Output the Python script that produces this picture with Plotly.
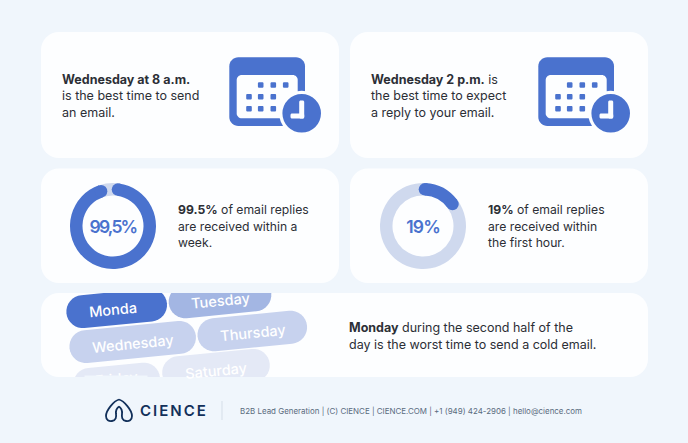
import math
import plotly.graph_objects as go

W, H = 688, 443
BLUE = "#4A72CE"
TRACK = "#CFD9EE"
BG = "#F0F6FC"
INK = "#2C2F36"
NAVY = "#12305A"

# share of the ring that is painted
arc_labels = ["99,5%", "19%"]
arc_values = [98.0, 19.4]

days = ["Monda", "Tuesday", "Wednesday", "Thursday", "Friday", "Saturday"]
day_colors = ["#4A72CE", "#A3B6E3", "#C7D2EE", "#C7D2EE", "#E4E9F6", "#E4E9F6"]

card1_lines = ["<b>Wednesday at 8 a.m.</b>", "is the best time to send", "an email."]
card2_lines = ["<b>Wednesday 2 p.m.</b> is", "the best time to expect", "a reply to your email."]
card3_lines = ["<b>99.5%</b> of email replies", "are received within a", "week."]
card4_lines = ["<b>19%</b> of email replies", "are received within", "the first hour."]
card5_lines = ["<b>Monday</b> during the second half of the", "day is the worst time to send a cold email."]
footer = "B2B Lead Generation | (C) CIENCE | CIENCE.COM | +1 (949) 424-2906 | hello@cience.com"


def rounded(cx, cy, w, h, r, angle=0):
    pts = []
    a = math.radians(angle)
    corners = [(w / 2 - r, -h / 2 + r, -90), (w / 2 - r, h / 2 - r, 0),
               (-w / 2 + r, h / 2 - r, 90), (-w / 2 + r, -h / 2 + r, 180)]
    for x, y, start in corners:
        for i in range(9):
            t = math.radians(start + i * 90 / 8)
            px, py = x + r * math.cos(t), y + r * math.sin(t)
            pts.append((cx + px * math.cos(a) - py * math.sin(a),
                        cy + px * math.sin(a) + py * math.cos(a)))
    return "M" + " L".join(f"{x:.2f},{y:.2f}" for x, y in pts) + " Z"


shapes = []


def box(x0, y0, x1, y1, r, color, layer="below"):
    shapes.append(dict(type="path", path=rounded((x0 + x1) / 2, (y0 + y1) / 2, x1 - x0, y1 - y0, r),
                       fillcolor=color, line_width=0, xref="x", yref="y", layer=layer))


def disc(cx, cy, r, color):
    shapes.append(dict(type="circle", x0=cx - r, x1=cx + r, y0=cy - r, y1=cy + r,
                       fillcolor=color, line_width=0, xref="x", yref="y", layer="above"))


def calendar(dx):
    box(229.3 + dx, 57.3, 305 + dx, 126, 9, BLUE)
    box(236.7 + dx, 75, 297.7 + dx, 118.3, 5, "#FDFEFF")
    for y, xs in [(85, [260.7, 273.3, 285.7]), (96.7, [249, 260.7, 273.3]), (108.7, [249, 260.7, 273.3])]:
        for x in xs:
            box(x - 2.8 + dx, y - 2.8, x + 2.8 + dx, y + 2.8, 1.2, BLUE, "above")
    disc(301.7 + dx, 113.3, 22.5, "#FDFEFF")
    disc(301.7 + dx, 113.3, 19.3, BLUE)
    box(299.2 + dx, 100.5, 304.2 + dx, 118.5, 1.5, "#FDFEFF", "above")
    box(290.5 + dx, 113.5, 304.2 + dx, 118.5, 1.5, "#FDFEFF", "above")


for x0, y0, x1, y1 in [(41, 32, 339, 158), (350, 32, 648, 158), (41, 168.5, 339, 283),
                       (350, 168.5, 648, 283), (41, 293, 648, 377)]:
    box(x0, y0, x1, y1, 18, "#FDFEFF")
calendar(0)
calendar(309)

fig = go.Figure()
fig.add_trace(go.Scatter(x=[0], y=[0], mode="markers", marker=dict(opacity=0), hoverinfo="skip"))
# second subplot covers only the bottom card, so the pills are clipped to it
fig.add_trace(go.Scatter(x=[0], y=[300], mode="markers", marker=dict(opacity=0), hoverinfo="skip",
                         xaxis="x2", yaxis="y2"))

annotations = []


def label(x, y, text, size=12.5, color=INK, anchor="left", weight=None, angle=0):
    annotations.append(dict(x=x, y=y, xref="x", yref="y", text=text, showarrow=False, xanchor=anchor,
                            yanchor="middle", textangle=angle,
                            font=dict(family="Inter", size=size, color=color, weight=weight)))


# rings: straight slice from the pie, the round ends are discs on the slice ends
R_OUT, R_IN = 43, 30.5
R_MID = (R_OUT + R_IN) / 2
CAP = (R_OUT - R_IN) / 2
cap_deg = math.degrees(CAP / R_MID)
ring_pos = [(113, 226, -2), (423, 226, -6.7)]
for (cx, cy, start), val, txt in zip(ring_pos, arc_values, arc_labels):
    span = val * 3.6 - 2 * cap_deg
    first = start + cap_deg
    fig.add_trace(go.Pie(values=[span, 360 - span], sort=False, direction="clockwise", rotation=first,
                         hole=R_IN / R_OUT, textinfo="none", hoverinfo="skip", showlegend=False,
                         marker=dict(colors=[BLUE, TRACK], line=dict(width=0)),
                         domain=dict(x=[(cx - R_OUT) / W, (cx + R_OUT) / W],
                                     y=[(H - cy - R_OUT) / H, (H - cy + R_OUT) / H])))
    for ang in (first, first + span):
        t = math.radians(ang)
        disc(cx + R_MID * math.sin(t), cy - R_MID * math.cos(t), CAP, BLUE)
    label(cx, cy, txt, size=17.5, color=BLUE, anchor="center", weight=600)

for lines, x, ys, size in [(card1_lines, 60, [79, 95.7, 112.3], 12.5), (card2_lines, 369, [79, 95.7, 112.3], 12.5),
                           (card3_lines, 176, [209.3, 226, 242.7], 12.2), (card4_lines, 486, [209.3, 226, 242.7], 12.2),
                           (card5_lines, 347, [327, 344], 12.5)]:
    for y, line in zip(ys, lines):
        label(x, y, line, size=size)

# day pills
pills = [(116.7, 308.3, 101), (220, 298.3, 103), (132.7, 342, 127),
         (252.3, 331, 110), (116.7, 381.7, 87), (216, 369, 108)]
text_pos = [(112.5, 309), (220, 300), (132.5, 343), (253, 332), (116, 378), (216, 370)]
for day, color, (cx, cy, length), (tx, ty) in zip(days, day_colors, pills, text_pos):
    shapes.append(dict(type="path", path=rounded(cx, cy, length, 33, 16.5, -5.6), fillcolor=color,
                       line_width=0, xref="x2", yref="y2", layer="above"))
    label(tx, ty, day, size=14.5, color="#FFFFFF", anchor="center", weight=500, angle=-5.6)

# page colour over the cut-off part of the Friday label
annotations.append(dict(x=116, y=383, xref="x", yref="y", text=" ", showarrow=False, width=60, height=12,
                        bgcolor=BG, font=dict(size=1), xanchor="center", yanchor="middle"))

# footer
logo = dict(type="path", line=dict(color=NAVY, width=1.8), fillcolor="rgba(0,0,0,0)", xref="x", yref="y")
shapes.append(dict(logo, path="M119,399.5 C114,401 106,410 106,416 C106,420 109,421.5 112,421 "
                              "C116,420.5 116.5,417 116,414 C115.5,410 117,408 119,406.5"))
shapes.append(dict(logo, path="M119,399.5 C124,401 132,410 132,416 C132,420 129,421.5 126,421 "
                              "C122,420.5 121.5,417 122,414 C122.5,410 121,408 119,406.5"))
shapes.append(dict(type="line", x0=222, x1=222, y0=401, y1=420, line=dict(color="#D5DEE8", width=1),
                   xref="x", yref="y"))
label(143.5, 410.5, "CIENCE", size=15, color=NAVY, weight=600)
label(238, 411, footer, size=7.95, color="#5A6B7E")

fig.update_layout(
    width=W, height=H, margin=dict(l=0, r=0, t=0, b=0), paper_bgcolor=BG, plot_bgcolor="rgba(0,0,0,0)",
    xaxis=dict(range=[0, W], visible=False, fixedrange=True),
    yaxis=dict(range=[H, 0], visible=False, fixedrange=True),
    xaxis2=dict(range=[0, W], domain=[0, 1], visible=False, fixedrange=True, anchor="y2"),
    yaxis2=dict(range=[377, 293], domain=[(H - 377) / H, (H - 293) / H], visible=False, fixedrange=True,
                anchor="x2"),
    showlegend=False, shapes=shapes, annotations=annotations,
)

fig.write_html("out.html", config=dict(displayModeBar=False), post_script="""
document.body.style.margin = 0;
document.querySelectorAll('.annotation-text').forEach(function (t) {
    if (t.textContent === 'CIENCE') { t.style.letterSpacing = '2px'; }
    if (t.textContent === '99,5%') { t.style.letterSpacing = '-1.8px'; }
    if (t.textContent === '19%') { t.style.letterSpacing = '-0.9px'; }
});
""")
